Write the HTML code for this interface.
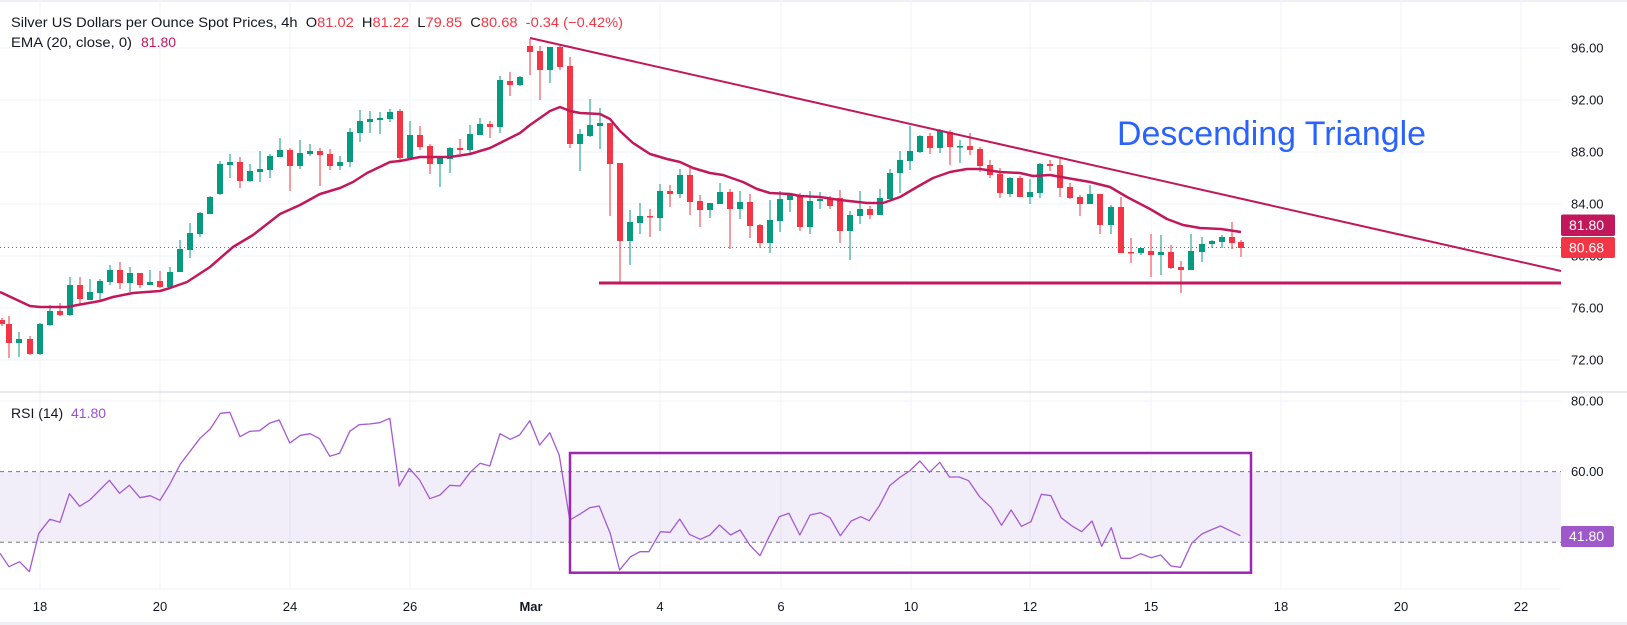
<!DOCTYPE html>
<html><head><meta charset="utf-8"><style>
html,body{margin:0;padding:0;background:#fff;width:1627px;height:625px;overflow:hidden}
svg{display:block;font-family:"Liberation Sans",Arial,sans-serif}
</style></head><body>
<svg width="1627" height="625" viewBox="0 0 1627 625" xmlns="http://www.w3.org/2000/svg">
<rect x="0" y="0" width="1627" height="625" fill="#fff"/>
<rect x="0" y="0" width="1627" height="2" fill="#eef0f5"/>
<rect x="0" y="622" width="1627" height="3" fill="#eef0f5"/>
<g stroke="#f0f3fa" stroke-width="1">
<path d="M0 48H1561M0 100H1561M0 152H1561M0 204H1561M0 256H1561M0 308H1561M0 360H1561M0 401H1561"/>
<path d="M40 0V589M160 0V589M290 0V589M410 0V589M531 0V589M660 0V589M781 0V589M911 0V589M1030 0V589M1151 0V589M1281 0V589M1401 0V589M1521 0V589"/>
</g>
<line x1="0" y1="392" x2="1627" y2="392" stroke="#e0e3eb" stroke-width="1.5"/>
<line x1="0" y1="589" x2="1561" y2="589" stroke="#f0f3fa"/>

<text x="11" y="27" font-size="14" fill="#131722" textLength="612" lengthAdjust="spacingAndGlyphs">Silver US Dollars per Ounce Spot Prices, 4h&#160;&#160;O<tspan fill="#f23645">81.02</tspan>&#160;&#160;H<tspan fill="#f23645">81.22</tspan>&#160;&#160;L<tspan fill="#f23645">79.85</tspan>&#160;&#160;C<tspan fill="#f23645">80.68</tspan>&#160;&#160;<tspan fill="#f23645">-0.34 (−0.42%)</tspan></text>
<text x="11" y="47" font-size="14" fill="#131722" textLength="121" lengthAdjust="spacingAndGlyphs">EMA (20, close, 0)</text>
<text x="141" y="47" font-size="14" fill="#c2185b">81.80</text>

<line x1="0" y1="247.5" x2="1561" y2="247.5" stroke="#f23645" stroke-width="1" stroke-dasharray="1,3"/>

<g fill="#089981">
<path stroke="#089981" stroke-width="1" fill="none" d="M19 332V357M40 323V355M50 305V326M70 277V316M90 279V300M100 279V301M110 265V285M130 267V292M150 270V285M170 267V288M180 240V272M190 223V258M200 212V237M210 196V214M220 161V195M230 154V178M250 164V182M260 151V182M270 154V178M280 138V157M300 140V169M310 144V156M340 156V170M350 128V167M360 110V142M370 111V133M380 112V134M390 109V122M410 121V158M440 156V187M450 147V173M470 125V154M480 118V135M500 76V133M520 76V86M550 47V83M580 129V171M590 99V137M600 108V149M630 210V265M640 203V234M660 184V231M680 169V198M710 203V218M720 183V204M740 191V219M770 200V253M780 191V232M790 193V212M810 191V234M820 192V209M850 211V260M860 191V224M880 189V215M890 169V199M900 151V193M910 126V170M920 135V153M940 129V153M960 140V163M1010 177V197M1030 179V204M1040 163V198M1090 185V204M1111 205V234M1141 248V255M1161 235V275M1191 234V270M1202 237V262M1212 240V248M1222 235V248"/>
<rect x="16" y="339" width="6" height="4"/><rect x="37" y="324" width="6" height="30"/><rect x="47" y="311" width="6" height="14"/><rect x="67" y="285" width="6" height="30"/><rect x="87" y="292" width="6" height="8"/><rect x="97" y="281" width="6" height="12"/><rect x="107" y="270" width="6" height="12"/><rect x="127" y="273" width="6" height="10"/><rect x="147" y="282" width="6" height="3"/><rect x="167" y="272" width="6" height="15"/><rect x="177" y="249" width="6" height="23"/><rect x="187" y="233" width="6" height="17"/><rect x="197" y="213" width="6" height="21"/><rect x="207" y="197" width="6" height="17"/><rect x="217" y="164" width="6" height="30"/><rect x="227" y="162" width="6" height="3"/><rect x="247" y="171" width="6" height="10"/><rect x="257" y="169" width="6" height="3"/><rect x="267" y="156" width="6" height="14"/><rect x="277" y="150" width="6" height="7"/><rect x="297" y="153" width="6" height="13"/><rect x="307" y="151" width="6" height="3"/><rect x="337" y="162" width="6" height="4"/><rect x="347" y="132" width="6" height="30"/><rect x="357" y="121" width="6" height="12"/><rect x="367" y="119" width="6" height="3"/><rect x="377" y="118" width="6" height="2"/><rect x="387" y="112" width="6" height="7"/><rect x="407" y="135" width="6" height="23"/><rect x="437" y="158" width="6" height="6"/><rect x="447" y="148" width="6" height="11"/><rect x="467" y="134" width="6" height="16"/><rect x="477" y="124" width="6" height="11"/><rect x="497" y="80" width="6" height="47"/><rect x="517" y="77" width="6" height="8"/><rect x="547" y="47" width="6" height="23"/><rect x="577" y="134" width="6" height="10"/><rect x="587" y="125" width="6" height="11"/><rect x="597" y="123" width="6" height="3"/><rect x="627" y="222" width="6" height="19"/><rect x="637" y="216" width="6" height="7"/><rect x="657" y="191" width="6" height="27"/><rect x="677" y="175" width="6" height="19"/><rect x="707" y="203" width="6" height="7"/><rect x="717" y="192" width="6" height="12"/><rect x="737" y="202" width="6" height="7"/><rect x="767" y="220" width="6" height="23"/><rect x="777" y="199" width="6" height="22"/><rect x="787" y="195" width="6" height="5"/><rect x="807" y="201" width="6" height="26"/><rect x="817" y="199" width="6" height="2"/><rect x="847" y="215" width="6" height="16"/><rect x="857" y="209" width="6" height="7"/><rect x="877" y="198" width="6" height="17"/><rect x="887" y="173" width="6" height="26"/><rect x="897" y="160" width="6" height="13"/><rect x="907" y="151" width="6" height="10"/><rect x="917" y="136" width="6" height="16"/><rect x="937" y="131" width="6" height="17"/><rect x="957" y="146" width="6" height="1.5"/><rect x="1007" y="178" width="6" height="16"/><rect x="1027" y="192" width="6" height="5"/><rect x="1037" y="164" width="6" height="29"/><rect x="1087" y="194" width="6" height="10"/><rect x="1108" y="207" width="6" height="18"/><rect x="1138" y="248" width="6" height="5"/><rect x="1158" y="252" width="6" height="3"/><rect x="1188" y="251" width="6" height="19"/><rect x="1199" y="244" width="6" height="8"/><rect x="1209" y="241" width="6" height="3"/><rect x="1219" y="237" width="6" height="5"/>
</g>
<g fill="#f23645">
<path stroke="#f23645" stroke-width="1" fill="none" d="M2 318V326M9 316V358M30 336V355M60 303V316M80 277V305M120 262V289M140 273V288M160 271V288M240 157V188M290 148V191M320 148V186M330 149V170M400 109V160M420 126V150M430 144V174M460 139V154M490 121V138M510 72V96M530 39V75M540 46V100M560 45V70M570 57V148M610 123V216M620 163V282M650 209V237M670 185V207M690 167V215M700 195V227M730 189V249M750 194V238M760 224V248M800 193V231M830 196V209M840 190V243M870 206V219M930 133V154M950 130V165M970 133V155M980 147V172M990 160V178M1000 168V198M1020 176V197M1050 160V171M1060 159V197M1070 183V199M1080 195V216M1100 194V234M1121 197V253M1131 238V263M1151 234V277M1171 245V269M1181 261V293M1232 222V249M1241 240V257"/>
<rect x="0" y="320" width="5" height="4"/><rect x="6" y="324" width="6" height="19"/><rect x="27" y="339" width="6" height="15"/><rect x="57" y="311" width="6" height="4"/><rect x="77" y="285" width="6" height="14"/><rect x="117" y="270" width="6" height="13"/><rect x="137" y="273" width="6" height="12"/><rect x="157" y="281" width="6" height="6"/><rect x="237" y="162" width="6" height="19"/><rect x="287" y="150" width="6" height="16"/><rect x="317" y="151" width="6" height="4"/><rect x="327" y="154" width="6" height="12"/><rect x="397" y="111" width="6" height="47"/><rect x="417" y="135" width="6" height="12"/><rect x="427" y="146" width="6" height="18"/><rect x="457" y="148" width="6" height="2"/><rect x="487" y="124" width="6" height="3"/><rect x="507" y="81" width="6" height="4"/><rect x="527" y="46" width="6" height="6"/><rect x="537" y="51" width="6" height="19"/><rect x="557" y="47" width="6" height="20"/><rect x="567" y="66" width="6" height="78"/><rect x="607" y="123" width="6" height="41"/><rect x="617" y="163" width="6" height="78"/><rect x="647" y="216" width="6" height="1.5"/><rect x="667" y="191" width="6" height="3"/><rect x="687" y="175" width="6" height="27"/><rect x="697" y="201" width="6" height="9"/><rect x="727" y="192" width="6" height="17"/><rect x="747" y="202" width="6" height="24"/><rect x="757" y="225" width="6" height="18"/><rect x="797" y="195" width="6" height="32"/><rect x="827" y="198" width="6" height="8"/><rect x="837" y="198" width="6" height="33"/><rect x="867" y="209" width="6" height="6"/><rect x="927" y="136" width="6" height="12"/><rect x="947" y="132" width="6" height="15"/><rect x="967" y="146" width="6" height="4"/><rect x="977" y="149" width="6" height="17"/><rect x="987" y="165" width="6" height="10"/><rect x="997" y="174" width="6" height="19"/><rect x="1017" y="178" width="6" height="19"/><rect x="1047" y="164" width="6" height="2"/><rect x="1057" y="165" width="6" height="23"/><rect x="1067" y="187" width="6" height="11"/><rect x="1077" y="197" width="6" height="7"/><rect x="1097" y="194" width="6" height="31"/><rect x="1118" y="207" width="6" height="46"/><rect x="1128" y="252" width="6" height="1.5"/><rect x="1148" y="251" width="6" height="4"/><rect x="1168" y="252" width="6" height="16"/><rect x="1178" y="267" width="6" height="3"/><rect x="1229" y="237" width="6" height="6"/><rect x="1238" y="242" width="6" height="6"/>
</g>

<polyline fill="none" stroke="#c2185b" stroke-width="2.5" stroke-linejoin="round" points="0,292 30,306 40,307 67,307 83,304 100,301 113,297 133,293 160,291 170,288 187,282 210,267 233,247 253,235 280,214 300,205 320,194 340,188 353,182 367,173 390,162 400,161 420,157 450,157 470,154 490,148 500,143 520,133 530,125 540,118 550,111 560,107 570,111 580,113 600,114 610,119 620,131 633,143 650,154 667,159 680,162 693,168 710,173 723,175 743,182 757,189 770,193 790,194 800,196 820,197 840,200 867,203 883,203 900,197 917,187 933,178 950,172 967,169 980,169 1000,172 1020,173 1033,176 1050,175 1067,178 1090,182 1110,187 1127,197 1150,209 1167,219 1183,225 1200,228 1221,229 1241,232"/>

<line x1="530" y1="38" x2="1561" y2="271" stroke="#c2185b" stroke-width="2"/>
<line x1="599" y1="283" x2="1561" y2="283" stroke="#c2185b" stroke-width="3"/>

<text x="1117" y="145" font-size="34" fill="#2962ff" textLength="309" lengthAdjust="spacingAndGlyphs">Descending Triangle</text>

<g font-size="13" fill="#131722">
<text x="1571" y="52.5">96.00</text>
<text x="1571" y="104.5">92.00</text>
<text x="1571" y="156.5">88.00</text>
<text x="1571" y="208.5">84.00</text>
<text x="1571" y="260.5">80.00</text>
<text x="1571" y="312.5">76.00</text>
<text x="1571" y="364.5">72.00</text>
</g>
<rect x="1561" y="214.5" width="54" height="21.5" rx="2" fill="#c2185b"/>
<text x="1569" y="230" font-size="14" fill="#fff">81.80</text>
<rect x="1561" y="237" width="54" height="21" rx="2" fill="#f23645"/>
<text x="1569" y="252.5" font-size="14" fill="#fff">80.68</text>

<rect x="0" y="471.6" width="1561" height="70.6" fill="#7e57c2" fill-opacity="0.1"/>
<line x1="0" y1="471.6" x2="1561" y2="471.6" stroke="#787b86" stroke-dasharray="4,4"/>
<line x1="0" y1="542.2" x2="1561" y2="542.2" stroke="#787b86" stroke-dasharray="4,4"/>
<text x="11" y="418" font-size="14" fill="#131722">RSI (14)</text>
<text x="71" y="418" font-size="14" fill="#9c4fd4">41.80</text>
<polyline fill="none" stroke="#a45ad5" stroke-width="1.3" stroke-linejoin="round" points="0,553.3 9,566.7 19.6,561.7 29.4,571.7 38.8,533.3 49.8,519.3 60,522.3 69.4,493.7 79.6,506.3 89.8,500 109.4,480.3 119.6,493.3 129.4,485.3 140,497.7 150.2,495.7 160,500.3 169.4,485 180.4,464 200,438.3 210.2,429 220.4,413.3 229.8,412.3 240,436.7 249.8,431.3 259.6,430.7 269.4,423.3 279.2,420 289.8,443 300.4,435.3 310.2,433.7 319.6,438.7 329.8,456.3 339.6,453.3 349.8,431.3 359.2,424.7 369.4,424 379.6,422.7 389.8,418.3 399.2,486 409.4,468.3 419.6,480 429.8,498.7 440,495 449.8,485.3 460,486 470.2,472.3 480,463.3 489.8,466 500,433.7 510.2,439.3 519.6,435 529.8,420.7 539.6,445 549.8,432.7 559.2,455 569.8,520 579.6,514.3 589.8,507.7 599.2,506 610.2,533.3 619.6,570 630.6,556.7 640,551.7 648.9,551.7 660.5,531.7 670.1,532.3 679.7,519 689.4,534.3 700.3,539.3 709.9,535 719.5,525 730.5,535 740.1,530 749.7,545 760,555.7 769.6,535.7 779.3,516.7 788.9,513.3 799.8,535 810.1,515 820.4,512.7 830,517.7 840.3,535.7 851.2,521 860.8,516.7 869.2,520.7 879.4,505.7 889.7,485.7 900,477.3 909.6,471 919.9,461 929.5,472.3 939.8,462.3 949.4,477 959.1,477 968.7,480.7 979.6,496.7 991.2,507.7 1001.5,525.3 1011.1,510 1021.4,526.3 1031,521.7 1041.3,494.3 1050.9,495.7 1061.2,517.7 1071.5,525.7 1081.7,531.7 1092,521 1101.7,546.3 1111.3,527.7 1120.9,558.3 1130.5,558.3 1140.8,553.7 1151.1,557.7 1160.7,555 1171,566 1180.6,567.3 1191.6,543.3 1201.8,534 1210.8,530 1220.5,526 1230.1,530.7 1240.4,535.7"/>
<rect x="570" y="453" width="681" height="119.7" fill="none" stroke="#9c27b0" stroke-width="2.5"/>
<g font-size="13" fill="#131722">
<text x="1571" y="405.5">80.00</text>
<text x="1571" y="476">60.00</text>
<text x="1571" y="546.5">40.00</text>
</g>
<rect x="1561" y="526" width="53" height="21" rx="2" fill="#9f58c9"/>
<text x="1569" y="541" font-size="14" fill="#fff">41.80</text>

<g font-size="13" fill="#131722" text-anchor="middle">
<text x="40" y="611">18</text>
<text x="160" y="611">20</text>
<text x="290" y="611">24</text>
<text x="410" y="611">26</text>
<text x="531" y="611" font-weight="bold">Mar</text>
<text x="660" y="611">4</text>
<text x="781" y="611">6</text>
<text x="911" y="611">10</text>
<text x="1030" y="611">12</text>
<text x="1151" y="611">15</text>
<text x="1281" y="611">18</text>
<text x="1401" y="611">20</text>
<text x="1521" y="611">22</text>
</g>
</svg>
</body></html>
